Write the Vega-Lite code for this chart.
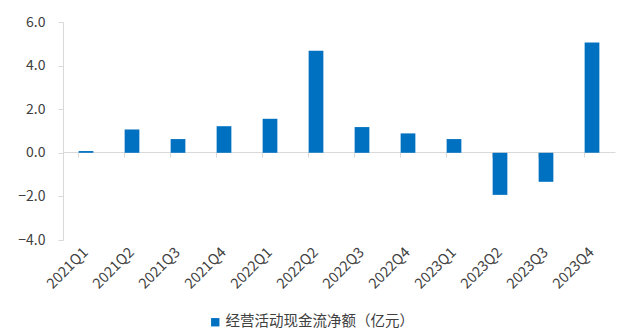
{
  "$schema": "https://vega.github.io/schema/vega-lite/v6.json",
  "width": 552,
  "height": 218,
  "autosize": {"type": "none"},
  "padding": {"left": 63, "top": 22, "right": 6, "bottom": 91},
  "background": "white",
  "config": {
    "view": {"stroke": null},
    "font": "Noto Sans CJK SC"
  },
  "data": {
    "values": [
      {"quarter": "2021Q1", "value": 0.08, "series": "经营活动现金流净额（亿元）"},
      {"quarter": "2021Q2", "value": 1.07, "series": "经营活动现金流净额（亿元）"},
      {"quarter": "2021Q3", "value": 0.63, "series": "经营活动现金流净额（亿元）"},
      {"quarter": "2021Q4", "value": 1.22, "series": "经营活动现金流净额（亿元）"},
      {"quarter": "2022Q1", "value": 1.56, "series": "经营活动现金流净额（亿元）"},
      {"quarter": "2022Q2", "value": 4.68, "series": "经营活动现金流净额（亿元）"},
      {"quarter": "2022Q3", "value": 1.18, "series": "经营活动现金流净额（亿元）"},
      {"quarter": "2022Q4", "value": 0.89, "series": "经营活动现金流净额（亿元）"},
      {"quarter": "2023Q1", "value": 0.63, "series": "经营活动现金流净额（亿元）"},
      {"quarter": "2023Q2", "value": -1.93, "series": "经营活动现金流净额（亿元）"},
      {"quarter": "2023Q3", "value": -1.33, "series": "经营活动现金流净额（亿元）"},
      {"quarter": "2023Q4", "value": 5.06, "series": "经营活动现金流净额（亿元）"}
    ]
  },
  "mark": {"type": "bar"},
  "encoding": {
    "x": {
      "field": "quarter",
      "type": "nominal",
      "sort": null,
      "scale": {"paddingInner": 0.68, "paddingOuter": 0.34},
      "axis": {
        "title": null,
        "offset": -88,
        "labelPadding": 93,
        "labelAngle": -45,
        "labelAlign": "right",
        "labelBaseline": "middle",
        "labelFontSize": 14.5,
        "labelColor": "#404040",
        "labelFont": "Noto Sans CJK SC",
        "domainColor": "#d9d9d9",
        "tickColor": "#d9d9d9",
        "tickSize": 5,
        "bandPosition": 0,
        "grid": false
      }
    },
    "y": {
      "field": "value",
      "type": "quantitative",
      "scale": {"domain": [-4, 6], "nice": false},
      "axis": {
        "title": null,
        "values": [-4, -2, 0, 2, 4, 6],
        "format": ".1f",
        "grid": false,
        "labelFontSize": 14,
        "labelColor": "#404040",
        "labelPadding": 13,
        "domainColor": "#d9d9d9",
        "tickColor": "#d9d9d9",
        "tickSize": 5
      }
    },
    "color": {
      "field": "series",
      "type": "nominal",
      "scale": {"range": ["#0070C0"]},
      "legend": {
        "title": null,
        "orient": "none",
        "legendX": 145,
        "legendY": 293,
        "symbolType": "square",
        "symbolSize": 70,
        "labelFontSize": 14.5,
        "labelLimit": 0,
        "labelColor": "#404040",
        "labelOffset": 3
      }
    }
  }
}
